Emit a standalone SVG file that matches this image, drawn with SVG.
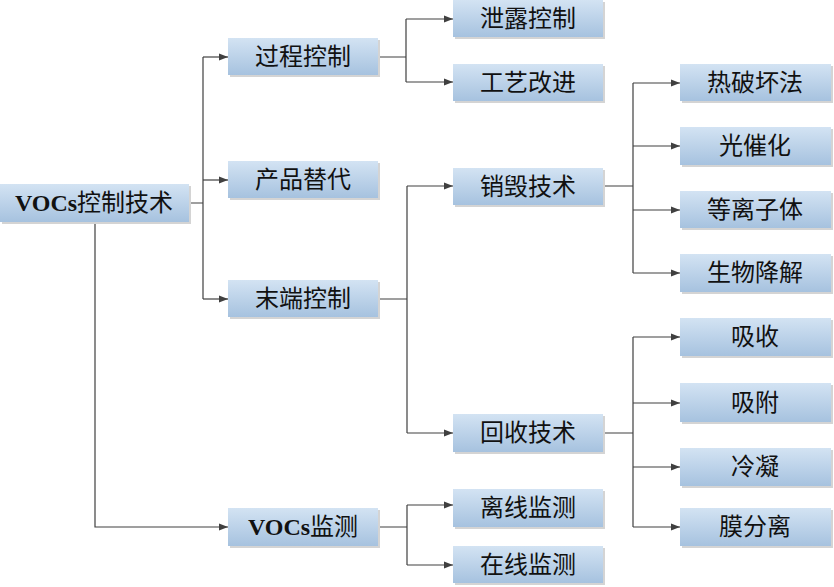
<svg xmlns="http://www.w3.org/2000/svg" width="834" height="587" viewBox="0 0 834 587">
<defs>
<linearGradient id="g" x1="0" y1="0" x2="0" y2="1">
<stop offset="0" stop-color="#d3e3f3"/>
<stop offset="1" stop-color="#a6c2df"/>
</linearGradient>
<marker id="a" markerWidth="10" markerHeight="8" refX="9" refY="4" orient="auto" markerUnits="userSpaceOnUse">
<path d="M0,0.5 L9,4 L0,7.5 Z" fill="#404040"/>
</marker>
<style>
.s{fill:#d4d4d4}
.b{fill:url(#g)}
.t{font-family:"Liberation Serif","Noto Sans CJK SC",serif;font-size:24px;fill:#111;text-anchor:middle;dominant-baseline:central}
.r{font-weight:bold}
.c line,.c path{stroke:#404040;stroke-width:1.2;fill:none}
.ar{marker-end:url(#a)}
</style>
</defs>
<rect width="834" height="587" fill="#fff"/>
<g class="c">
<path d="M189,203 H203 M203,57 V299"/>
<path class="ar" d="M203,57 H228"/>
<path class="ar" d="M203,180 H228"/>
<path class="ar" d="M203,299 H228"/>
<path class="ar" d="M95,222 V527 H228"/>
<path d="M378,57 H406 M406,19 V82"/>
<path class="ar" d="M406,19 H453"/>
<path class="ar" d="M406,82 H453"/>
<path d="M378,299 H407 M407,186 V433"/>
<path class="ar" d="M407,186 H453"/>
<path class="ar" d="M407,433 H453"/>
<path d="M378,527 H407 M407,505 V565"/>
<path class="ar" d="M407,505 H453"/>
<path class="ar" d="M407,565 H453"/>
<path d="M603,186 H633 M633,83 V273"/>
<path class="ar" d="M633,83 H680"/>
<path class="ar" d="M633,146 H680"/>
<path class="ar" d="M633,210 H680"/>
<path class="ar" d="M633,273 H680"/>
<path d="M604,433 H633 M633,337 V527"/>
<path class="ar" d="M633,337 H680"/>
<path class="ar" d="M633,403 H680"/>
<path class="ar" d="M633,467 H680"/>
<path class="ar" d="M633,527 H680"/>
</g>
<g id="root"><rect class="s" x="2" y="186" width="189" height="38"/><rect class="b" x="0" y="184" width="189" height="38"/><text class="t" x="94" y="203"><tspan class="r">VOCs</tspan>控制技术</text></g>
<g id="n1"><rect class="s" x="230" y="40" width="150" height="37"/><rect class="b" x="228" y="38" width="150" height="37"/><text class="t" x="303" y="57">过程控制</text></g>
<g id="n2"><rect class="s" x="230" y="163" width="150" height="37"/><rect class="b" x="228" y="161" width="150" height="37"/><text class="t" x="303" y="180">产品替代</text></g>
<g id="n3"><rect class="s" x="230" y="282" width="150" height="37"/><rect class="b" x="228" y="280" width="150" height="37"/><text class="t" x="303" y="299">末端控制</text></g>
<g id="n4"><rect class="s" x="230" y="510" width="150" height="38"/><rect class="b" x="228" y="508" width="150" height="38"/><text class="t" x="303" y="527"><tspan class="r">VOCs</tspan>监测</text></g>
<g id="n11"><rect class="s" x="455" y="2" width="150" height="37"/><rect class="b" x="453" y="0" width="150" height="37"/><text class="t" x="528" y="19">泄露控制</text></g>
<g id="n12"><rect class="s" x="455" y="66" width="150" height="37"/><rect class="b" x="453" y="64" width="150" height="37"/><text class="t" x="528" y="83">工艺改进</text></g>
<g id="n31"><rect class="s" x="455" y="170" width="150" height="37"/><rect class="b" x="453" y="168" width="150" height="37"/><text class="t" x="528" y="187">销毁技术</text></g>
<g id="n32"><rect class="s" x="455" y="416" width="150" height="38"/><rect class="b" x="453" y="414" width="150" height="38"/><text class="t" x="528" y="433">回收技术</text></g>
<g id="n41"><rect class="s" x="455" y="491" width="150" height="38"/><rect class="b" x="453" y="489" width="150" height="38"/><text class="t" x="528" y="508">离线监测</text></g>
<g id="n42"><rect class="s" x="455" y="548" width="150" height="37"/><rect class="b" x="453" y="546" width="150" height="37"/><text class="t" x="528" y="565">在线监测</text></g>
<g id="d1"><rect class="s" x="682" y="66" width="151" height="37"/><rect class="b" x="680" y="64" width="151" height="37"/><text class="t" x="755" y="83">热破坏法</text></g>
<g id="d2"><rect class="s" x="682" y="129" width="151" height="38"/><rect class="b" x="680" y="127" width="151" height="38"/><text class="t" x="755" y="146">光催化</text></g>
<g id="d3"><rect class="s" x="682" y="193" width="151" height="37"/><rect class="b" x="680" y="191" width="151" height="37"/><text class="t" x="755" y="210">等离子体</text></g>
<g id="d4"><rect class="s" x="682" y="256" width="151" height="38"/><rect class="b" x="680" y="254" width="151" height="38"/><text class="t" x="755" y="273">生物降解</text></g>
<g id="r1"><rect class="s" x="682" y="320" width="151" height="38"/><rect class="b" x="680" y="318" width="151" height="38"/><text class="t" x="755" y="337">吸收</text></g>
<g id="r2"><rect class="s" x="682" y="385" width="151" height="39"/><rect class="b" x="680" y="383" width="151" height="39"/><text class="t" x="755" y="403">吸附</text></g>
<g id="r3"><rect class="s" x="682" y="450" width="151" height="38"/><rect class="b" x="680" y="448" width="151" height="38"/><text class="t" x="755" y="467">冷凝</text></g>
<g id="r4"><rect class="s" x="682" y="510" width="151" height="38"/><rect class="b" x="680" y="508" width="151" height="38"/><text class="t" x="755" y="527">膜分离</text></g>
</svg>
